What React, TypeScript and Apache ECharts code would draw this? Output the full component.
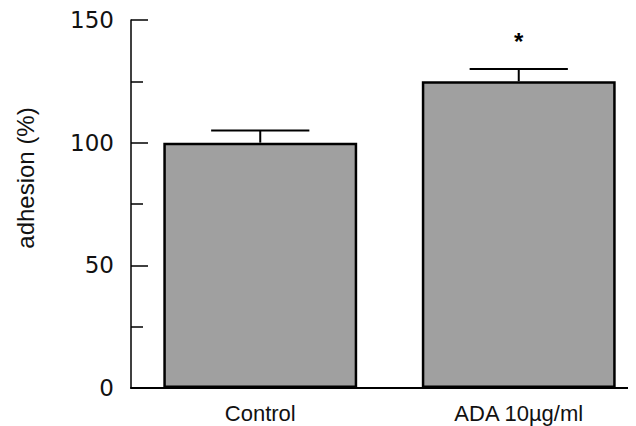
import React, { useEffect, useRef } from "react";
import * as echarts from "echarts";

const categories = ["Control", "ADA 10\u00b5g/ml"];
const adhesion = [100, 125];
const errors = [5, 5];
const marks = ["", "*"];
const yTicks = [0, 50, 100, 150];
const yTitle = "adhesion (%)";

export default function App() {
  const ref = useRef<HTMLDivElement>(null);
  useEffect(() => {
    if (!ref.current) return;
    const prevOverflow = document.body.style.overflow;
    document.body.style.overflow = "hidden";
    const chart = echarts.init(ref.current, undefined, { renderer: "svg" });
    chart.setOption({
      animation: false,
      grid: { left: 123, right: 0, top: 12, bottom: 38 },
      graphic: [
        {
          type: "text",
          x: 17,
          y: 170,
          rotation: Math.PI / 2,
          style: {
            text: yTitle,
            fill: "#111",
            font: "24px Liberation Sans, Arial, sans-serif",
            align: "center",
            verticalAlign: "middle",
          },
        },
      ],
      xAxis: {
        type: "category",
        data: categories,
        axisLine: { lineStyle: { color: "#000", width: 2 } },
        axisTick: { show: false },
        axisLabel: {
          color: "#111",
          fontSize: 22,
          fontFamily: "Liberation Sans, Arial, sans-serif",
          margin: 14,
        },
      },
      yAxis: {
        type: "value",
        min: yTicks[0],
        max: yTicks[yTicks.length - 1],
        interval: 50,
        axisLine: { show: true, lineStyle: { color: "#000", width: 1.5 } },
        axisTick: { show: true, inside: true, length: 17, lineStyle: { color: "#000", width: 1.5 } },
        minorTick: { show: true, splitNumber: 2, length: 12, lineStyle: { color: "#000", width: 1.5 } },
        splitLine: { show: false },
        axisLabel: {
          color: "#111",
          fontSize: 23,
          fontFamily: "DejaVu Sans, sans-serif",
          margin: 17,
        },
      },
      series: [
        {
          type: "bar",
          data: adhesion,
          barWidth: "75%",
          itemStyle: {
            color: "#a0a0a0",
            borderColor: "#000",
            borderWidth: 2.5,
          },
          z: 2,
        },
        {
          type: "custom",
          data: adhesion.map((v, i) => [i, v, errors[i]]),
          z: 3,
          renderItem: (params: any, api: any) => {
            const i = api.value(0);
            const v = api.value(1);
            const e = api.value(2);
            const base = api.coord([i, v]);
            const top = api.coord([i, v + e]);
            const half = api.size([1, 0])[0] * 0.19;
            const children: any[] = [
              {
                type: "line",
                shape: { x1: base[0], y1: base[1], x2: top[0], y2: top[1] },
                style: { stroke: "#000", lineWidth: 2 },
              },
              {
                type: "line",
                shape: { x1: top[0] - half, y1: top[1], x2: top[0] + half, y2: top[1] },
                style: { stroke: "#000", lineWidth: 2 },
              },
            ];
            const m = marks[params.dataIndex];
            if (m) {
              children.push({
                type: "text",
                x: top[0],
                y: top[1] - 28,
                style: {
                  text: m,
                  fill: "#000",
                  font: "bold 24px Liberation Sans, Arial, sans-serif",
                  align: "center",
                  verticalAlign: "middle",
                },
              });
            }
            return { type: "group", children };
          },
        },
      ],
    });
    return () => {
      chart.dispose();
      document.body.style.overflow = prevOverflow;
    };
  }, []);
  return <div ref={ref} style={{ width: 640, height: 418 }} />;
}
